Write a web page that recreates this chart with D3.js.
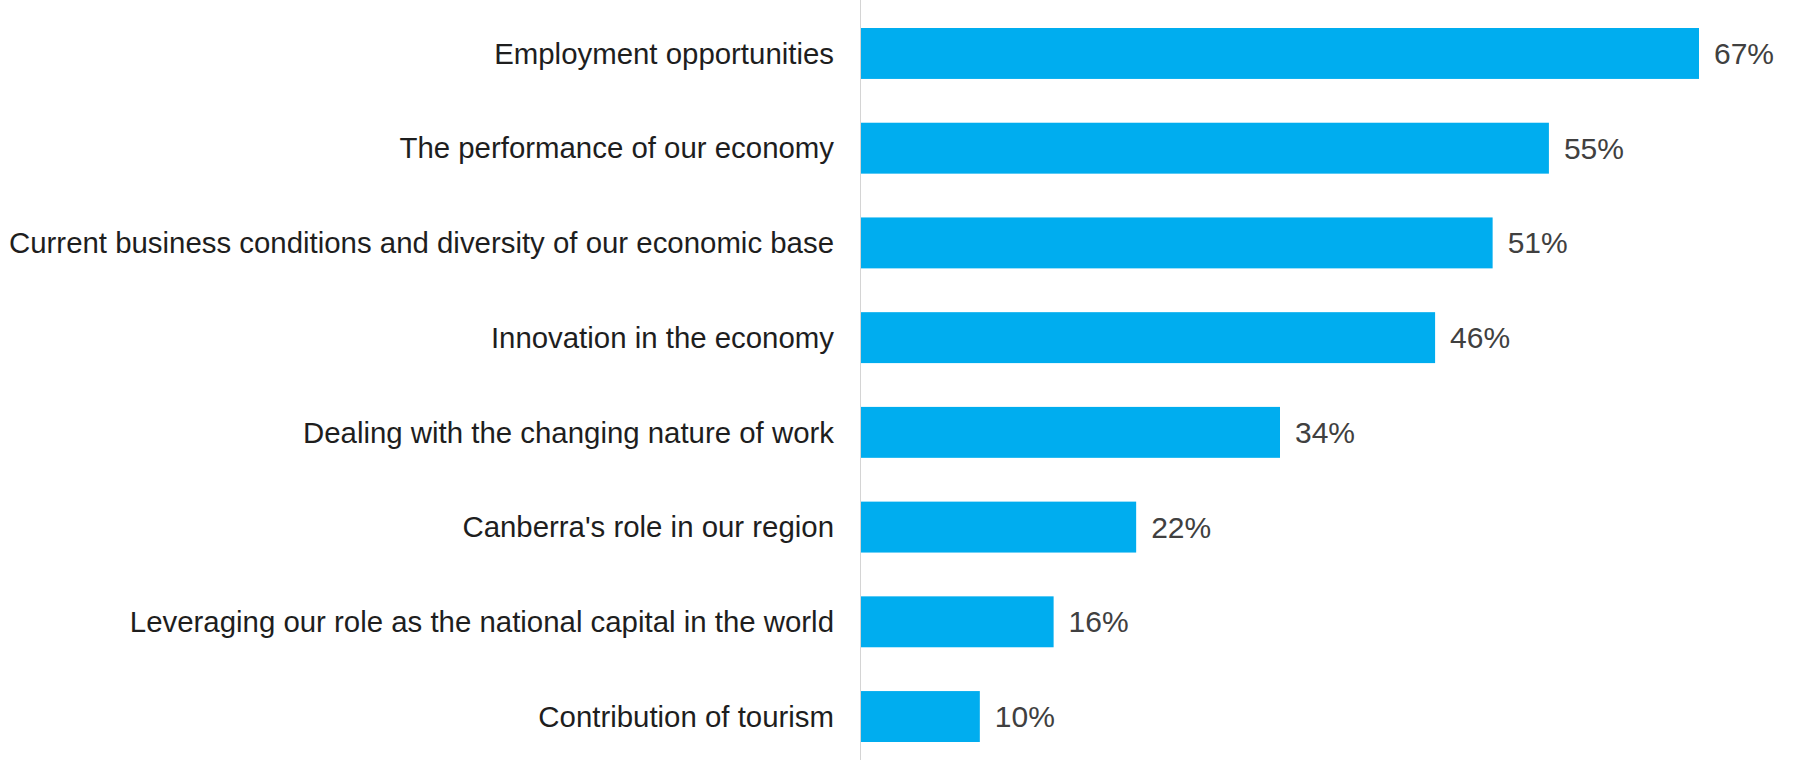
<!DOCTYPE html>
<html>
<head>
<meta charset="utf-8">
<script src="https://cdn.jsdelivr.net/npm/d3@7"></script>
<style>
  html, body { margin: 0; padding: 0; background: #ffffff; }
  svg { display: block; }
</style>
</head>
<body>
<svg id="chart" width="1793" height="760"></svg>
<script>
const categories = [
  "Employment opportunities",
  "The performance of our economy",
  "Current business conditions and diversity of our economic base",
  "Innovation in the economy",
  "Dealing with the changing nature of work",
  "Canberra's role in our region",
  "Leveraging our role as the national capital in the world",
  "Contribution of tourism"
];
const values = [67, 55, 50.5, 45.9, 33.5, 22, 15.4, 9.5];
const valueLabels = ["67%", "55%", "51%", "46%", "34%", "22%", "16%", "10%"];

const W = 1793, H = 760;
const svg = d3.select("#chart");

const x = d3.scaleLinear().domain([0, 67]).range([861, 1699]);
const y = d3.scaleBand().domain(categories).range([28, 742])
  .paddingInner(0.4624).paddingOuter(0);

// axis line
svg.append("line")
  .attr("x1", 860.5).attr("x2", 860.5)
  .attr("y1", 0).attr("y2", H)
  .attr("stroke", "#d4d4d4").attr("stroke-width", 1);

// bars
svg.append("g").selectAll("rect")
  .data(categories)
  .join("rect")
  .attr("x", x(0))
  .attr("y", d => y(d))
  .attr("width", (d, i) => x(values[i]) - x(0))
  .attr("height", y.bandwidth())
  .attr("fill", "#00adef");

// category labels
svg.append("g").selectAll("text")
  .data(categories)
  .join("text")
  .attr("x", 834)
  .attr("y", d => y(d) + y.bandwidth() / 2)
  .attr("dy", "0.35em")
  .attr("text-anchor", "end")
  .attr("font-family", "Liberation Sans, Arial, sans-serif")
  .attr("font-size", 29.4)
  .attr("fill", "#1e1e1e")
  .text(d => d);

// value labels
svg.append("g").selectAll("text")
  .data(categories)
  .join("text")
  .attr("x", (d, i) => x(values[i]) + 15)
  .attr("y", d => y(d) + y.bandwidth() / 2)
  .attr("dy", "0.35em")
  .attr("font-family", "Liberation Sans, Arial, sans-serif")
  .attr("font-size", 30)
  .attr("fill", "#404040")
  .text((d, i) => valueLabels[i]);
</script>
</body>
</html>
